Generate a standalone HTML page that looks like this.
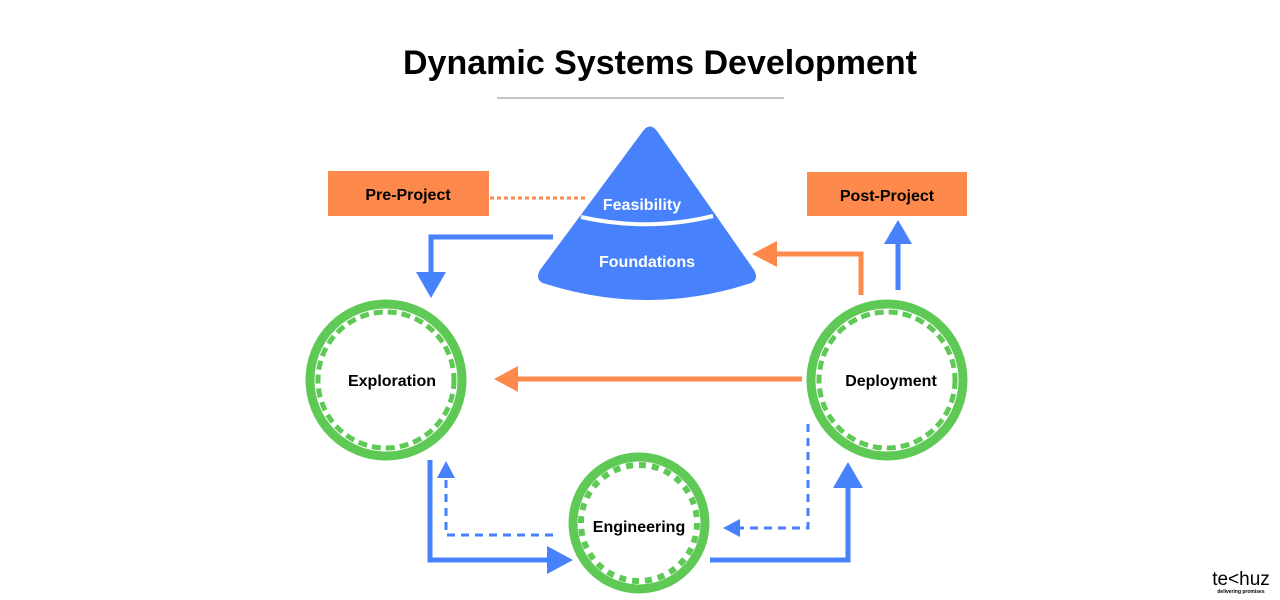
<!DOCTYPE html>
<html><head><meta charset="utf-8"><style>
html,body{margin:0;padding:0;background:#fff;}
svg{display:block;}
text{font-family:"Liberation Sans",sans-serif;font-weight:bold;}
</style></head><body>
<svg width="1280" height="600" viewBox="0 0 1280 600" xmlns="http://www.w3.org/2000/svg">
<text x="660" y="74" text-anchor="middle" font-size="34" fill="#000">Dynamic Systems Development</text>
<line x1="497" y1="98" x2="784" y2="98" stroke="#888" stroke-width="1"/>

<!-- triangle -->
<path d="M643,131 Q650,122 657,131 L754,270 Q760,281 748,284 Q648,316 546,284 Q534,281 540,270 Z" fill="#4782fc"/>
<path d="M581,217 Q648,232 713,216" stroke="#fff" stroke-width="4" fill="none"/>
<text x="642" y="210" text-anchor="middle" font-size="16" fill="#fff">Feasibility</text>
<text x="647" y="267" text-anchor="middle" font-size="16" fill="#fff">Foundations</text>

<!-- boxes -->
<rect x="328" y="171" width="161" height="45" fill="#fd8a4c"/>
<text x="408" y="200" text-anchor="middle" font-size="16" fill="#000">Pre-Project</text>
<rect x="807" y="172" width="160" height="44" fill="#fd8a4c"/>
<text x="887" y="201" text-anchor="middle" font-size="16" fill="#000">Post-Project</text>
<line x1="490" y1="198" x2="585" y2="198" stroke="#fd8a4c" stroke-width="3" stroke-dasharray="4,3"/>

<!-- circles -->
<g fill="#fff" stroke="#5ec955">
<circle cx="386" cy="380" r="76" stroke-width="9"/>
<circle cx="386" cy="380" r="68" stroke-width="5" stroke-dasharray="9,5" fill="none"/>
<circle cx="887" cy="380" r="76" stroke-width="9"/>
<circle cx="887" cy="380" r="68" stroke-width="5" stroke-dasharray="9,5" fill="none"/>
<circle cx="639" cy="523" r="66" stroke-width="9"/>
<circle cx="639" cy="523" r="58" stroke-width="6" stroke-dasharray="7,6" fill="none"/>
</g>
<text x="392" y="386" text-anchor="middle" font-size="16" fill="#000">Exploration</text>
<text x="891" y="386" text-anchor="middle" font-size="16" fill="#000">Deployment</text>
<text x="639" y="532" text-anchor="middle" font-size="16" fill="#000">Engineering</text>

<!-- arrows -->
<g fill="none" stroke-width="5">
<polyline points="553,237 431,237 431,275" stroke="#4782fc"/>
<polyline points="861,295 861,254 775,254" stroke="#fd8a4c"/>
<line x1="898" y1="290" x2="898" y2="242" stroke="#4782fc"/>
<line x1="802" y1="379" x2="515" y2="379" stroke="#fd8a4c"/>
<polyline points="430,460 430,560 550,560" stroke="#4782fc"/>
<polyline points="710,560 848,560 848,485" stroke="#4782fc"/>
</g>
<g fill="none" stroke-width="3" stroke="#4782fc" stroke-dasharray="8,6">
<polyline points="553,535 446,535 446,478"/>
<polyline points="808,424 808,528 740,528"/>
</g>
<g fill="#4782fc">
<polygon points="416,272 446,272 431,298"/>
<polygon points="884,244 912,244 898,220"/>
<polygon points="547,546 547,574 573,560"/>
<polygon points="833,488 863,488 848,462"/>
<polygon points="437,478 455,478 446,461"/>
<polygon points="740,519 740,537 723,528"/>
</g>
<g fill="#fd8a4c">
<polygon points="777,241 777,267 752,254"/>
<polygon points="518,366 518,392 494,379"/>
</g>

<text x="1241" y="585" text-anchor="middle" font-size="19" fill="#000" style="font-weight:normal">te&lt;huz</text>
<text x="1241" y="593" text-anchor="middle" font-size="5" fill="#000">delivering promises</text>
</svg>
</body></html>
